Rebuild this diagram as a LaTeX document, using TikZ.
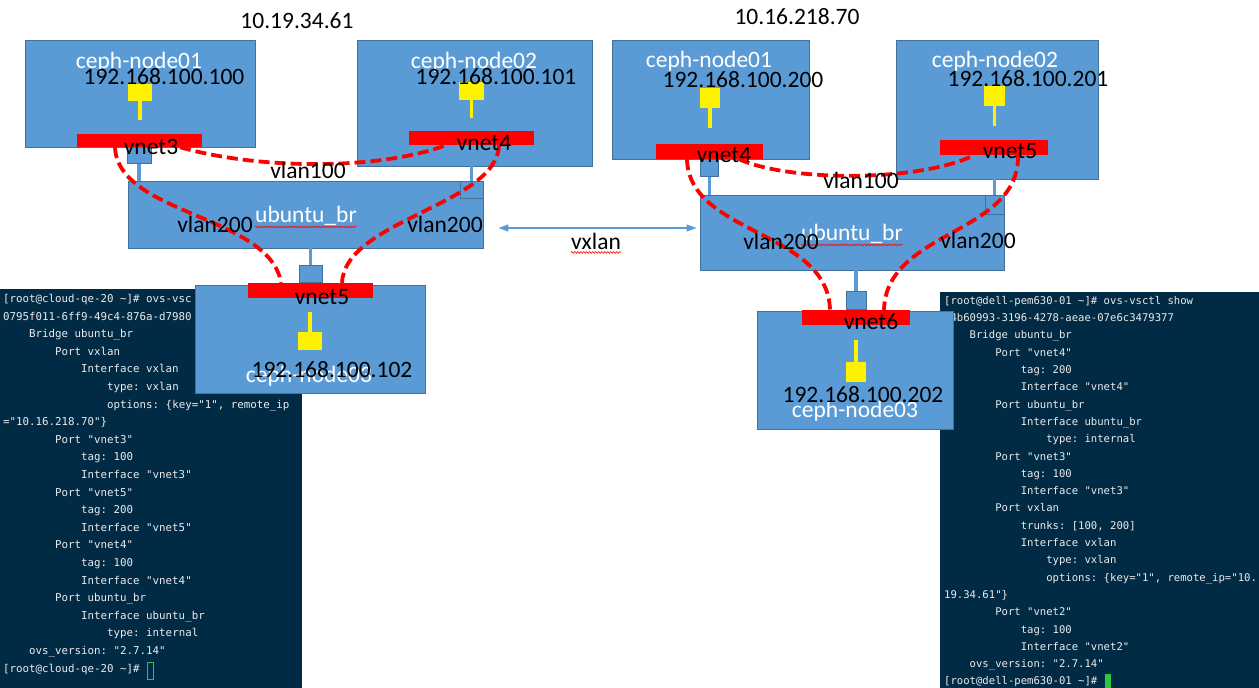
\documentclass[tikz,border=0pt]{standalone}
\usepackage{fontspec}
\setmainfont{Carlito}
\setmonofont{DejaVu Sans Mono}
\usepackage{tikz}
\usetikzlibrary{shapes.geometric, arrows.meta, positioning, decorations.pathmorphing}

\definecolor{boxblue}{RGB}{91,155,213}
\definecolor{edgeblue}{RGB}{65,113,156}
\definecolor{termbg}{RGB}{1,42,68}
\definecolor{termfg}{RGB}{236,236,236}
\definecolor{curgreen}{RGB}{40,200,70}

\tikzstyle{vm} = [rectangle, draw=edgeblue, fill=boxblue, line width=0.9pt, inner sep=0pt]
\tikzstyle{port} = [vm]
\tikzstyle{tap} = [rectangle, fill=red, inner sep=0pt]
\tikzstyle{nic} = [rectangle, fill=yellow, inner sep=0pt]
\tikzstyle{stem} = [yellow, line width=3.5pt]
\tikzstyle{link} = [boxblue, line width=3.5pt]
\tikzstyle{vlan} = [red, line width=3.8pt, dash pattern=on 11pt off 5pt]
\tikzstyle{lbl} = [inner sep=0pt, font=\fontsize{23.5}{28}\selectfont]
\tikzstyle{vmtitle} = [lbl, text=white]
\tikzstyle{squig} = [red, line width=0.6pt, decorate, decoration={snake, amplitude=0.9pt, segment length=3pt}]
\tikzstyle{term} = [rectangle, fill=termbg, inner sep=0pt, anchor=north west]
\tikzstyle{shell} = [text=termfg, inner sep=0pt, align=left, anchor=north west]
\tikzstyle{arrow} = [boxblue, line width=1.2pt, {Triangle[length=10pt,width=7pt]}-{Triangle[length=10pt,width=7pt]}]

\newcommand{\tA}{\phantom{0000}}

\begin{document}
\begin{tikzpicture}[x=1pt, y=-1pt]
	\useasboundingbox (0,0) rectangle (1259,688);
	
	\node (lt) [term, minimum width=302pt, minimum height=399pt] at (0,289) {};
	\node (ltx) [shell, font=\ttfamily\fontsize{10.8}{17.6}\selectfont] at (3,294) {
		{[}root@cloud-qe-20 \textasciitilde]\# ovs-vsc\\
		0795f011-6ff9-49c4-876a-d7980\\
		\tA Bridge ubuntu\_br\\
		\tA\tA Port vxlan\\
		\tA\tA\tA Interface vxlan\\
		\tA\tA\tA\tA type: vxlan\\
		\tA\tA\tA\tA options: \{key="1", remote\_ip\\
		="10.16.218.70"\}\\
		\tA\tA Port "vnet3"\\
		\tA\tA\tA tag: 100\\
		\tA\tA\tA Interface "vnet3"\\
		\tA\tA Port "vnet5"\\
		\tA\tA\tA tag: 200\\
		\tA\tA\tA Interface "vnet5"\\
		\tA\tA Port "vnet4"\\
		\tA\tA\tA tag: 100\\
		\tA\tA\tA Interface "vnet4"\\
		\tA\tA Port ubuntu\_br\\
		\tA\tA\tA Interface ubuntu\_br\\
		\tA\tA\tA\tA type: internal\\
		\tA ovs\_version: "2.7.14"\\
		{[}root@cloud-qe-20 \textasciitilde]\#};
	\node (lcur) [draw=curgreen, line width=0.8pt, minimum width=6pt, minimum height=17pt, inner sep=0pt] at (150.5,671) {};
	
	\node (rt) [term, minimum width=319pt, minimum height=396pt] at (940,292) {};
	\node (rtx) [shell, font=\ttfamily\fontsize{10.6}{17.3}\selectfont] at (944,296) {
		{[}root@dell-pem630-01 \textasciitilde]\# ovs-vsctl show\\
		\phantom{0}4b60993-3196-4278-aeae-07e6c3479377\\
		\tA Bridge ubuntu\_br\\
		\tA\tA Port "vnet4"\\
		\tA\tA\tA tag: 200\\
		\tA\tA\tA Interface "vnet4"\\
		\tA\tA Port ubuntu\_br\\
		\tA\tA\tA Interface ubuntu\_br\\
		\tA\tA\tA\tA type: internal\\
		\tA\tA Port "vnet3"\\
		\tA\tA\tA tag: 100\\
		\tA\tA\tA Interface "vnet3"\\
		\tA\tA Port vxlan\\
		\tA\tA\tA trunks: [100, 200]\\
		\tA\tA\tA Interface vxlan\\
		\tA\tA\tA\tA type: vxlan\\
		\tA\tA\tA\tA options: \{key="1", remote\_ip="10.\\
		19.34.61"\}\\
		\tA\tA Port "vnet2"\\
		\tA\tA\tA tag: 100\\
		\tA\tA\tA Interface "vnet2"\\
		\tA ovs\_version: "2.7.14"\\
		{[}root@dell-pem630-01 \textasciitilde]\#};
	\node (rcur) [fill=curgreen, minimum width=6pt, minimum height=14pt, inner sep=0pt] at (1108,681) {};
	
	\node (h1) [lbl] at (297,21) {10.19.34.61};
	\node (n1) [vm, minimum width=230pt, minimum height=107pt] at (140,93.5) {};
	\node (n2) [vm, minimum width=235pt, minimum height=126pt] at (474.5,103) {};
	\node (lbr) [vm, minimum width=355pt, minimum height=67pt] at (305.5,214.5) {};
	\node (lbp) [port, minimum width=23pt, minimum height=17pt] at (471.5,189.5) {};
	\node (n3) [vm, minimum width=230pt, minimum height=108pt] at (310,339) {};
	\node (n1nic) [nic, minimum width=24pt, minimum height=17pt] at (140,92.5) {};
	\node (n2nic) [nic, minimum width=25pt, minimum height=18pt] at (471.5,91) {};
	\node (n3nic) [nic, minimum width=24pt, minimum height=18pt] at (310,341) {};
	\draw [stem] (n1nic.south) -- ++(0,19);
	\draw [stem] (n2nic.south) -- ++(0,18);
	\draw [stem] (n3nic.north) -- ++(0,-20);
	\node (n1tap) [tap, minimum width=125pt, minimum height=13pt] at (139,140.5) {};
	\node (n2tap) [tap, minimum width=125pt, minimum height=14pt] at (471.5,138) {};
	\node (n3tap) [tap, minimum width=125pt, minimum height=15pt] at (310.5,290.5) {};
	\node (n1port) [port, minimum width=24pt, minimum height=16pt, below=0pt of n1tap] {};
	\node (n3port) [port, minimum width=23pt, minimum height=17pt, above=0pt of n3tap] {};
	\draw [link] (n1port.south) -- (n1port |- lbr.north);
	\draw [link] (lbp |- n2.south) -- (lbp.north);
	\draw [link] (n3port |- lbr.south) -- (n3port.north);
	
	\node (h2) [lbl] at (797,17) {10.16.218.70};
	\node (m1) [vm, minimum width=197pt, minimum height=119pt] at (710.5,99.5) {};
	\node (m2) [vm, minimum width=202pt, minimum height=139pt] at (997,109.5) {};
	\node (rbr) [vm, minimum width=304pt, minimum height=75pt] at (852,232.5) {};
	\node (rbp) [port, minimum width=19pt, minimum height=19pt] at (994.5,204.5) {};
	\node (m3) [vm, minimum width=196pt, minimum height=118pt] at (855,370) {};
	\node (m1nic) [nic, minimum width=20pt, minimum height=20pt] at (710,98) {};
	\node (m2nic) [nic, minimum width=21pt, minimum height=20pt] at (994.5,96) {};
	\node (m3nic) [nic, minimum width=20pt, minimum height=20pt] at (856,372) {};
	\draw [stem] (m1nic.south) -- ++(0,20);
	\draw [stem] (m2nic.south) -- ++(0,20);
	\draw [stem] (m3nic.north) -- ++(0,-22);
	\node (m1tap) [tap, minimum width=107pt, minimum height=15pt] at (709.5,151.5) {};
	\node (m2tap) [tap, minimum width=108pt, minimum height=15pt] at (994,147.5) {};
	\node (m3tap) [tap, minimum width=108pt, minimum height=15pt] at (856,317.5) {};
	\node (m1port) [port, minimum width=18pt, minimum height=17pt, below=0pt of m1tap] {};
	\node (m3port) [port, minimum width=20pt, minimum height=18pt, above=0pt of m3tap] {};
	\draw [link] (m1port.south) -- (m1port |- rbr.north);
	\draw [link] (rbp |- m2.south) -- (rbp.north);
	\draw [link] (m3port |- rbr.south) -- (m3port.north);
	
	\draw [arrow] ([shift={(15,13.5)}]lbr.east) -- ([shift={(-3,-4.5)}]rbr.west);
	\node (vx) [lbl] at (596,241) {vxlan};
	\draw [squig] ([yshift=-3pt]vx.south west) -- ([yshift=-3pt]vx.south east);
	
	\draw [vlan] ([xshift=-24pt]n1tap.south) .. controls (118,215) and (270,215) .. ([xshift=-29.5pt]n3tap.north);
	\draw [vlan] ([xshift=41pt]n1tap.south) .. controls (260,170) and (380,170) .. ([xshift=-25.5pt]n2tap.south);
	\draw [vlan] ([xshift=27.5pt]n2tap.south) .. controls (497,205) and (345,220) .. ([xshift=31.5pt]n3tap.north);
	\draw [vlan] ([xshift=-22.5pt]m1tap.south) .. controls (689,235) and (828,230) .. ([xshift=-26pt]m3tap.north);
	\draw [vlan] ([xshift=29.5pt]m1tap.south) .. controls (790,182) and (920,182) .. ([xshift=-20pt]m2tap.south);
	\draw [vlan] ([xshift=24pt]m2tap.south) .. controls (1020,235) and (886,230) .. ([xshift=28pt]m3tap.north);
	
	\node (n1t) [vmtitle] at (139,62) {ceph-node01};
	\node (n1ip) [lbl] at (164,77) {192.168.100.100};
	\node (n1v) [lbl] at (151,147) {vnet3};
	\node (n2t) [vmtitle] at (474,62) {ceph-node02};
	\node (n2ip) [lbl] at (496,77) {192.168.100.101};
	\node (n2v) [lbl] at (484,143) {vnet4};
	\node (l100) [lbl] at (308,170) {vlan100};
	\node (lbrt) [vmtitle] at (306,216) {ubuntu\_br};
	\draw [squig] ([yshift=-1pt]lbrt.south west) -- ([yshift=-1pt]lbrt.south east);
	\node (l200a) [lbl] at (215,224) {vlan200};
	\node (l200b) [lbl] at (445,224) {vlan200};
	\node (n3v) [lbl] at (322,297) {vnet5};
	\node (n3t) [vmtitle] at (309,376) {ceph-node03};
	\node (n3ip) [lbl] at (332,370) {192.168.100.102};
	
	\node (m1t) [vmtitle] at (709,61) {ceph-node01};
	\node (m1ip) [lbl] at (743,80) {192.168.100.200};
	\node (m1v) [lbl] at (724,155) {vnet4};
	\node (m2t) [vmtitle] at (995,61) {ceph-node02};
	\node (m2ip) [lbl] at (1028,79) {192.168.100.201};
	\node (m2v) [lbl] at (1010,151) {vnet5};
	\node (r100) [lbl] at (861,180) {vlan100};
	\node (rbrt) [vmtitle] at (852,234) {ubuntu\_br};
	\draw [squig] ([yshift=-1pt]rbrt.south west) -- ([yshift=-1pt]rbrt.south east);
	\node (r200a) [lbl] at (781,241) {vlan200};
	\node (r200b) [lbl] at (978,240) {vlan200};
	\node (m3v) [lbl] at (871,322) {vnet6};
	\node (m3t) [vmtitle] at (855,411) {ceph-node03};
	\node (m3ip) [lbl] at (863,395) {192.168.100.202};
\end{tikzpicture}
\end{document}
